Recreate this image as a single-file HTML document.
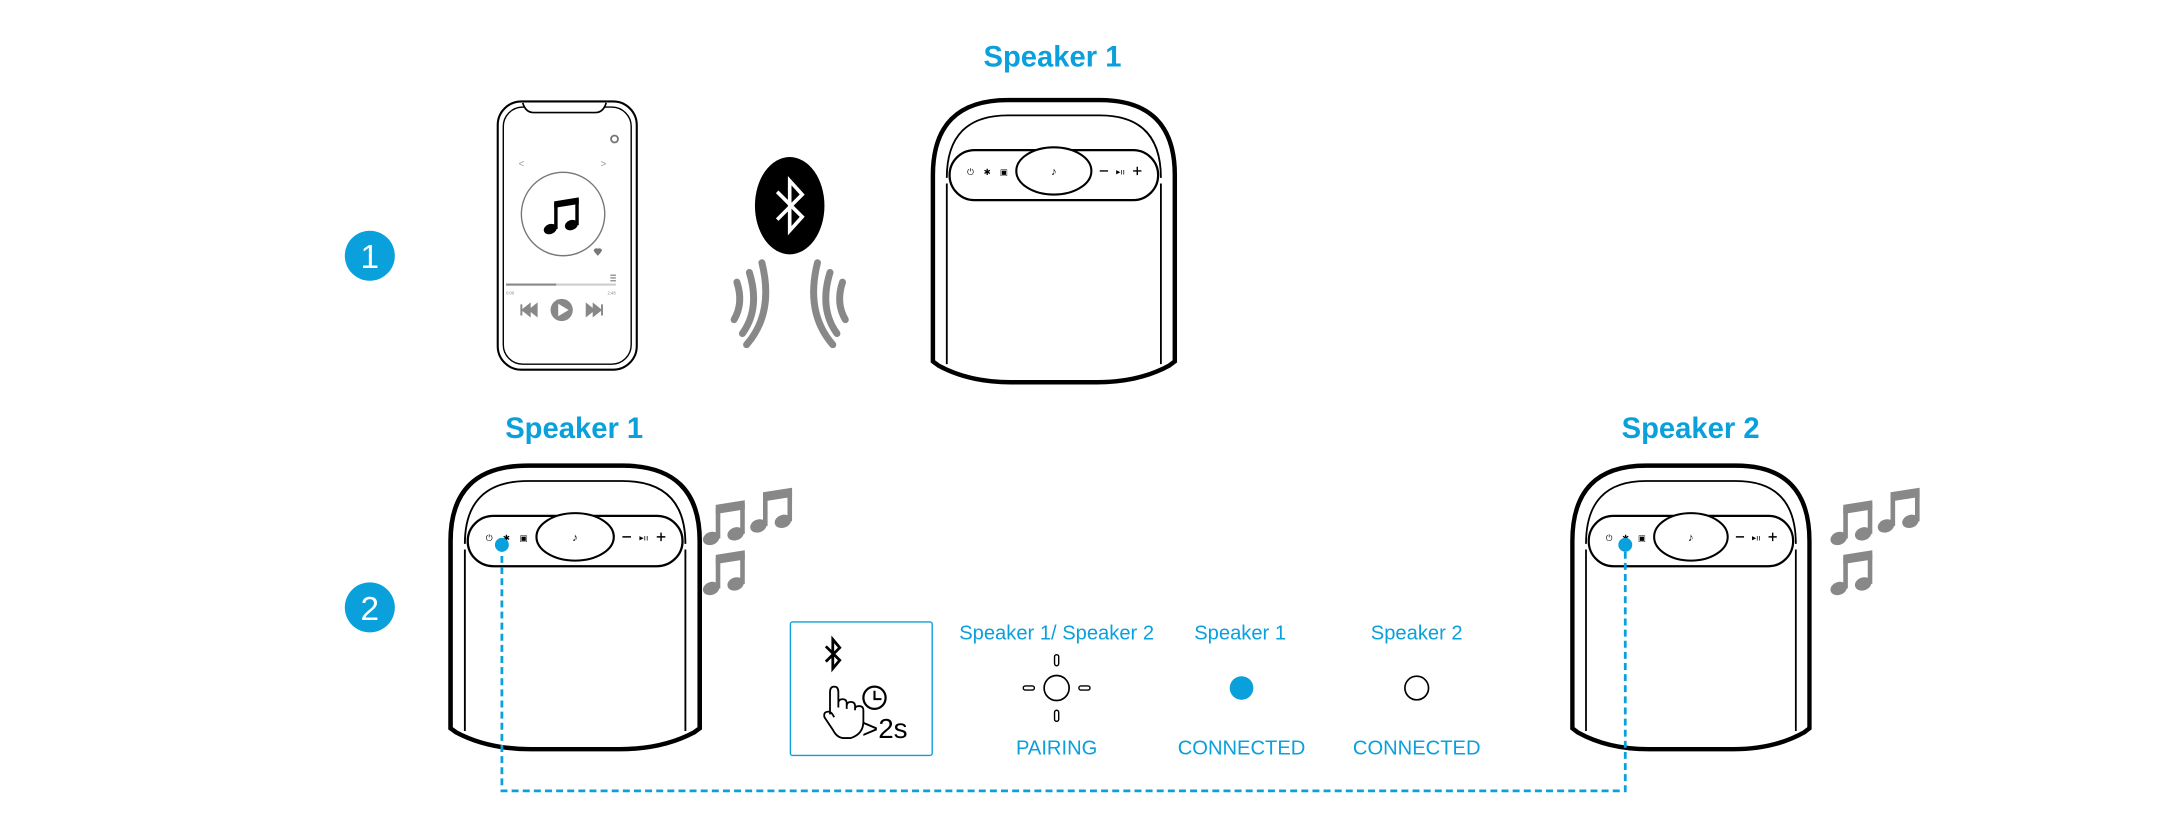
<!DOCTYPE html>
<html><head><meta charset="utf-8"><style>
html,body{margin:0;padding:0;background:#fff;}
svg{display:block;}
text{font-family:"Liberation Sans",sans-serif;}
</style></head><body>
<svg width="2180" height="827" viewBox="0 0 1568 595" preserveAspectRatio="none" xmlns="http://www.w3.org/2000/svg">
<defs>
<g id="spk">
 <path d="M2,56 Q2,2 56,2 H122 Q176,2 176,56 V190 L172,193 Q150,205 120,205 H58 Q28,205 6,193 L2,190 Z" fill="#fff" stroke="#000" stroke-width="3.2"/>
 <path d="M12,58 Q12,13 56,13 H122 Q166,13 166,58" fill="none" stroke="#000" stroke-width="1.3"/>
 <path d="M12,62 V192 M166,62 V192" fill="none" stroke="#000" stroke-width="1.3"/>
 <rect x="14" y="38" width="150" height="36" rx="18" fill="#fff" stroke="#000" stroke-width="1.6"/>
 <ellipse cx="89" cy="53" rx="27" ry="17" fill="#fff" stroke="#000" stroke-width="1.5"/>
 <text x="89" y="56" font-size="8" text-anchor="middle" font-style="italic" font-weight="bold">♪</text>
 <text x="29" y="56" font-size="6" text-anchor="middle">⏻</text>
 <text x="41" y="56" font-size="6" text-anchor="middle">✱</text>
 <text x="53" y="56" font-size="6" text-anchor="middle">▣</text>
 <path d="M122,53 h6 M146,53 h6 M149,50 v6" stroke="#000" stroke-width="1"/>
 <text x="137" y="55.5" font-size="6" text-anchor="middle">▸ıı</text>
</g>
<g id="note" fill="#888">
 <ellipse cx="5" cy="24" rx="5.5" ry="4.2" transform="rotate(-20 5 24)"/>
 <ellipse cx="21" cy="21" rx="5.5" ry="4.2" transform="rotate(-20 21 21)"/>
 <rect x="8" y="4" width="3" height="20"/>
 <rect x="24" y="1" width="3" height="20"/>
 <polygon points="8,2 27,-1 27,5 8,8"/>
</g>
<g id="noteb" fill="#000">
 <ellipse cx="5" cy="24" rx="5" ry="3.8" transform="rotate(-20 5 24)"/>
 <ellipse cx="21" cy="21" rx="5" ry="3.8" transform="rotate(-20 21 21)"/>
 <rect x="8" y="4" width="2.6" height="20"/>
 <rect x="24" y="1" width="2.6" height="20"/>
 <polygon points="8,3 26.6,0 26.6,5 8,8"/>
</g>
</defs>

<ellipse cx="266" cy="184" rx="18" ry="18" fill="#0aa0dc"/>
<text x="266" y="193" font-size="24" fill="#fff" text-anchor="middle">1</text>
<ellipse cx="266" cy="437" rx="18" ry="18" fill="#0aa0dc"/>
<text x="266" y="446" font-size="24" fill="#fff" text-anchor="middle">2</text>

<text x="757" y="48" font-size="21" font-weight="bold" fill="#0aa0dc" text-anchor="middle">Speaker 1</text>
<text x="413" y="315" font-size="21" font-weight="bold" fill="#0aa0dc" text-anchor="middle">Speaker 1</text>
<text x="1216" y="315" font-size="21" font-weight="bold" fill="#0aa0dc" text-anchor="middle">Speaker 2</text>

<rect x="358" y="73" width="100" height="193" rx="17" fill="#fff" stroke="#000" stroke-width="1.5"/>
<rect x="362" y="77" width="92" height="185" rx="14" fill="none" stroke="#000" stroke-width="1"/>
<path d="M376,74 Q378,81 384,81 H428 Q434,81 436,74" fill="#fff" stroke="#000" stroke-width="1.2"/>
<circle cx="442" cy="100" r="2.5" fill="none" stroke="#777" stroke-width="1.3"/>
<text x="373" y="120" font-size="7" fill="#999">&lt;</text>
<text x="432" y="120" font-size="7" fill="#999">&gt;</text>
<circle cx="405" cy="154" r="30" fill="none" stroke="#777" stroke-width="1"/>
<use href="#noteb" transform="translate(391,142) scale(0.95)"/>
<path d="M430,184 q-3,-3 -3,-4 a2,2 0 0 1 3,-1 a2,2 0 0 1 3,1 q0,1 -3,4z" fill="#777"/>
<path d="M439,198 h4 M439,200 h4 M439,202 h4" stroke="#777" stroke-width="0.8"/>
<rect x="364" y="204" width="79" height="1.5" fill="#ccc"/>
<rect x="364" y="204" width="36" height="1.5" fill="#888"/>
<text x="364" y="212" font-size="3" fill="#888">0:00</text>
<text x="437" y="212" font-size="3" fill="#888">2:48</text>
<circle cx="404" cy="223" r="8" fill="#888"/>
<polygon points="401.5,218.5 409,223 401.5,227.5" fill="#fff"/>
<path d="M375,219 v8 M376,223 l5,-4 v8 z M381,223 l5,-4 v8 z" fill="#888" stroke="#888" stroke-width="1.4"/>
<path d="M433,219 v8 M432,223 l-5,-4 v8 z M427,223 l-5,-4 v8 z" fill="#888" stroke="#888" stroke-width="1.4"/>

<ellipse cx="568" cy="148" rx="25" ry="35" fill="#000"/>
<path d="M559,138 L577,156 L568,166 V130 L577,140 L559,158" fill="none" stroke="#fff" stroke-width="2.6"/>

<g fill="none" stroke="#888" stroke-width="5" stroke-linecap="round">
 <path d="M530,203 Q535,218 528,230"/>
 <path d="M539,196 Q547,222 534,240"/>
 <path d="M548,189 Q557,225 537,248"/>
 <path d="M606,203 Q601,218 608,230"/>
 <path d="M597,196 Q589,222 602,240"/>
 <path d="M588,189 Q579,225 599,248"/>
</g>

<use href="#spk" transform="translate(669,70)"/>
<use href="#spk" transform="translate(322,333) scale(1.03,1.005)"/>
<use href="#spk" transform="translate(1129,333) scale(0.98,1.005)"/>

<use href="#note" transform="translate(506,361) scale(1.1)"/>
<use href="#note" transform="translate(540,352) scale(1.1)"/>
<use href="#note" transform="translate(506,397) scale(1.1)"/>
<use href="#note" transform="translate(1317,361) scale(1.1)"/>
<use href="#note" transform="translate(1351,352) scale(1.1)"/>
<use href="#note" transform="translate(1317,397) scale(1.1)"/>

<path d="M361,392 V569 H1169 V392" fill="none" stroke="#0aa0dc" stroke-width="2" stroke-dasharray="5,3"/>
<circle cx="361" cy="392" r="5" fill="#0aa0dc"/>
<circle cx="1169" cy="392" r="5" fill="#0aa0dc"/>

<rect x="568.5" y="447.5" width="102" height="96" rx="1.5" fill="#fff" stroke="#0aa0dc" stroke-width="1"/>
<path d="M594,465 L604,475 L599,481 V460 L604,466 L594,476" fill="none" stroke="#000" stroke-width="2"/>
<path d="M597,514 V498 q0,-4 3,-4 q3,0 3,4 V509 M603,506 q0,-3 3,-3 q3,0 3,3 v4 M609,508 q0,-3 3,-3 q3,0 3,3 v3 M615,510 q0,-2 3,-2 q3,0 3,3 v8 q0,9 -9,12 h-5 q-5,0 -8,-6 l-6,-9 q-1,-4 3,-4 q2,0 4,4" fill="#fff" stroke="#000" stroke-width="1.3"/>
<circle cx="629" cy="502" r="8" fill="none" stroke="#000" stroke-width="1.6"/>
<path d="M629,497 V503 H634" fill="none" stroke="#000" stroke-width="1.5"/>
<text x="620" y="531" font-size="20" fill="#000">&gt;2s</text>

<g fill="#0aa0dc" font-size="14.5" text-anchor="middle">
<text x="760" y="460">Speaker 1/ Speaker 2</text>
<text x="892" y="460">Speaker 1</text>
<text x="1019" y="460">Speaker 2</text>
<text x="760" y="543">PAIRING</text>
<text x="893" y="543">CONNECTED</text>
<text x="1019" y="543">CONNECTED</text>
</g>
<circle cx="760" cy="495" r="9" fill="none" stroke="#000" stroke-width="1.2"/>
<g fill="none" stroke="#000" stroke-width="1">
<rect x="758.5" y="471" width="3" height="8" rx="1.5"/>
<rect x="758.5" y="511" width="3" height="8" rx="1.5"/>
<rect x="736" y="493.5" width="8" height="3" rx="1.5"/>
<rect x="776" y="493.5" width="8" height="3" rx="1.5"/>
</g>
<circle cx="893" cy="495" r="8.5" fill="#0aa0dc"/>
<circle cx="1019" cy="495" r="8.5" fill="#fff" stroke="#000" stroke-width="1.2"/>
</svg>
</body></html>
